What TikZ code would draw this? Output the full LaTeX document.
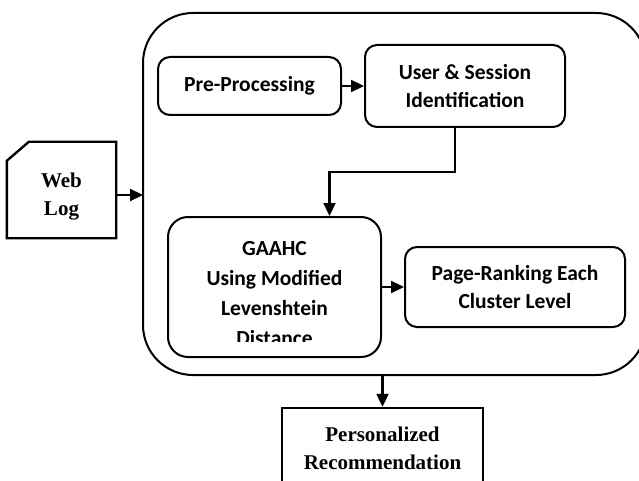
\documentclass[tikz,border=0pt]{standalone}
\usepackage{fontspec}
\setmainfont{Liberation Serif}
\newfontfamily\calibfont{Carlito}
\usepackage{tikz}
\usetikzlibrary{positioning, arrows.meta, calc}

\begin{document}
\begin{tikzpicture}[
  x=1pt, y=1pt,
  rbox/.style={draw, rounded corners=12pt, line width=2pt, align=center,
               font=\calibfont\bfseries\fontsize{21.5}{28.5}\selectfont, inner sep=0pt},
  sbox/.style={line width=2.4pt, align=center,
               font=\bfseries\fontsize{21}{28}\selectfont, inner sep=0pt},
  link/.style={line width=2.2pt, -{Triangle[length=13pt, width=12pt]}},
]
  \useasboundingbox (0,0) rectangle (639,-481);
  \clip (0,0) rectangle (639,-481);

  % ═══ Outer frame ═══════════════════════════════════════════
  \draw[line width=2pt, rounded corners=50pt] (143,-13) rectangle (646,-375);
  \coordinate (frame_w) at (143,-195);
  \coordinate (frame_s) at (382.5,-375);

  % ═══ Input: Web Log (cut corner) ════════════════════════════
  \node[sbox, minimum width=107pt, minimum height=94pt] (n_web) at (61.5,-197) {Web\\Log};
  \draw[line width=2.4pt]
    ($(n_web.north west)+(0,-12)$) -- ($(n_web.north west)+(22,7)$)
    -- ($(n_web.north east)+(0,7)$) -- ($(n_web.south east)+(0,7)$)
    -- ($(n_web.south west)+(0,7)$) -- cycle;

  % ═══ Inside the frame ═══════════════════════════════════════
  \node[rbox, minimum width=183pt, minimum height=58pt] (n_pre)  at (249.5,-86) {Pre-Processing};
  \node[rbox, minimum width=200pt, minimum height=82pt] (n_user) at (465,-86)   {User \& Session\\Identification};
  \node[rbox, rounded corners=20pt, minimum width=213pt, minimum height=140pt] (n_gaahc) at (274.5,-287) {};
  \node[rbox, minimum width=220pt, minimum height=80pt] (n_rank) at (515,-287)  {Page-Ranking Each\\Cluster Level};

  % GAAHC text overflows its box and is cut off
  \begin{scope}
    \clip (168,-217) rectangle (381,-341);
    \node[rbox, draw=none, anchor=north, font=\calibfont\bfseries\fontsize{21.5}{30}\selectfont]
      (t_gaahc) at (274.5,-240.5) {GAAHC\\Using Modified\\Levenshtein\\Distance};
  \end{scope}

  % ═══ Output ═════════════════════════════════════════════════
  \node[sbox, draw, minimum width=201pt, minimum height=80pt] (n_rec) at (382.5,-448)
    {Personalized\\Recommendation};

  % ═══ Links ══════════════════════════════════════════════════
  \draw[link] ([yshift=2pt]n_web.east) -- (frame_w);
  \draw[link] (n_pre.east) -- (n_user.west);
  \draw[link] ([xshift=-10pt]n_user.south) -- ++(0,-44) -| ([xshift=55pt]n_gaahc.north);
  \draw[link] (n_gaahc.east) -- (n_rank.west);
  \draw[link] (frame_s) -- (n_rec.north);
\end{tikzpicture}
\end{document}
